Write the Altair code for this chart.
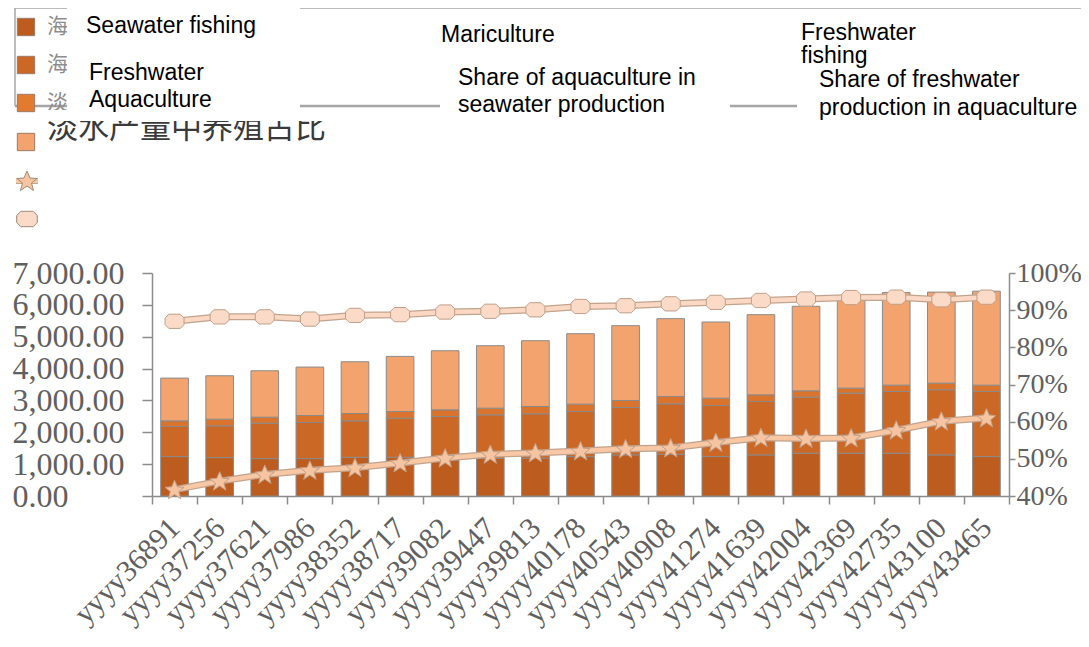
import altair as alt
import pandas as pd

# ---------------- data ----------------
years = ["yyyy36891", "yyyy37256", "yyyy37621", "yyyy37986", "yyyy38352", "yyyy38717",
         "yyyy39082", "yyyy39447", "yyyy39813", "yyyy40178", "yyyy40543", "yyyy40908",
         "yyyy41274", "yyyy41639", "yyyy42004", "yyyy42369", "yyyy42735", "yyyy43100",
         "yyyy43465"]
seawater_fishing = [1237, 1206, 1174, 1174, 1216, 1216, 1185, 1185, 1185, 1237,
                    1289, 1310, 1237, 1289, 1342, 1342, 1342, 1289, 1237]
mariculture = [944, 996, 1111, 1132, 1143, 1227, 1310, 1362, 1394, 1415,
               1489, 1583, 1604, 1678, 1761, 1887, 1939, 2045, 2044]
freshwater_fishing = [178, 209, 189, 221, 230, 209, 210, 210, 231, 231,
                      220, 231, 231, 209, 199, 157, 199, 209, 199]
freshwater_aquaculture = [1342, 1363, 1457, 1520, 1625, 1730, 1855, 1961, 2065, 2212,
                          2349, 2443, 2390, 2516, 2653, 2764, 2910, 2857, 2950]
share_aquaculture_seawater = [41.7, 44.0, 45.8, 46.9, 47.6, 48.9, 50.2, 51.2, 51.6, 52.1,
                              52.7, 52.9, 54.4, 55.7, 55.5, 55.6, 57.7, 60.1, 61.0]
share_aquaculture_freshwater = [87.0, 88.2, 88.2, 87.6, 88.6, 88.8, 89.5, 89.7, 90.1, 91.0,
                                91.2, 91.7, 92.1, 92.6, 93.0, 93.4, 93.5, 92.8, 93.5]

series_names = ["Seawater fishing", "Mariculture", "Freshwater fishing", "Freshwater aquaculture"]
series_values = [seawater_fishing, mariculture, freshwater_fishing, freshwater_aquaculture]
series_colors = ["#BC5D1F", "#CC6826", "#DA742D", "#F3A46E"]

rows = []
for i, yr in enumerate(years):
    for k, (nm, arr) in enumerate(zip(series_names, series_values)):
        rows.append({"year": yr, "series": nm, "value": arr[i], "order": k})
bar_df = pd.DataFrame(rows)

lrows = []
for i, yr in enumerate(years):
    lrows.append({"year": yr, "line": "sea", "share": share_aquaculture_seawater[i] / 100})
    lrows.append({"year": yr, "line": "fresh", "share": share_aquaculture_freshwater[i] / 100})
line_df = pd.DataFrame(lrows)

# ---------------- layout ----------------
OX, OY = 152, 273          # page position of plot origin
W, H = 857, 223
AX = "#8c8c8c"
LAB = "#606060"
SERIF = "Liberation Serif"
SANS = "Liberation Sans"

x_enc = alt.X("year:N", sort=years, title=None,
              scale=alt.Scale(paddingInner=0, paddingOuter=0),
              axis=alt.Axis(labelAngle=-45, labelAlign="right", labelBaseline="middle",
                            labelPadding=19, tickSize=8, tickBand="extent",
                            labelFont=SERIF, labelFontSize=30, labelColor=LAB,
                            labelOverlap=False, domainColor=AX, domainWidth=1.5,
                            tickColor=AX, tickWidth=1.5))

left_axis = alt.Axis(values=list(range(0, 7001, 1000)), format=",.2f", title=None,
                     labelFont=SERIF, labelFontSize=32, labelColor=LAB,
                     labelAlign="left", labelBaseline="middle", labelPadding=130,
                     tickSize=10, tickColor=AX, tickWidth=1.5,
                     domainColor=AX, domainWidth=1.5, grid=False, labelOverlap=False)

right_axis = alt.Axis(orient="right", values=[0.4, 0.5, 0.6, 0.7, 0.8, 0.9, 1.0],
                      format=".0%", title=None, labelFont=SERIF, labelFontSize=28,
                      labelColor=LAB, labelPadding=1, tickSize=6, tickColor=AX,
                      tickWidth=1.5, domainColor=AX, domainWidth=1.5, grid=False,
                      labelOverlap=False, labelBaseline="middle")

bars = alt.Chart(bar_df).mark_bar(width=alt.RelativeBandSize(0.613), stroke="#8a8a8a",
                                  strokeWidth=1).encode(
    x=x_enc,
    y=alt.Y("value:Q", stack="zero", scale=alt.Scale(domain=[0, 7000], nice=False),
            axis=left_axis),
    color=alt.Color("series:N", scale=alt.Scale(domain=series_names, range=series_colors),
                    legend=None),
    order=alt.Order("order:Q", sort="ascending"),
)

y_line = alt.Y("share:Q", scale=alt.Scale(domain=[0.4, 1.0], nice=False), axis=right_axis)

OCT = "M-0.6,-0.75L0.6,-0.75L1,-0.35L1,0.35L0.6,0.75L-0.6,0.75L-1,0.35L-1,-0.35Z"
STAR = "M0,-1L0.3,-0.3L1,-0.25L0.45,0.2L0.65,0.95L0,0.5L-0.65,0.95L-0.45,0.2L-1,-0.25L-0.3,-0.3Z"

def line_layers(key, color, shape, fill):
    base = alt.Chart(line_df).transform_filter(alt.datum.line == key)
    outline = base.mark_line(color="#C2A38D", strokeWidth=7).encode(x=x_enc, y=y_line)
    inner = base.mark_line(color=color, strokeWidth=4.5).encode(x=x_enc, y=y_line)
    pts = base.mark_point(shape=shape, size=360, filled=True, fill=fill, stroke="#BF9F88",
                          strokeWidth=1, opacity=1).encode(x=x_enc, y=y_line)
    return [outline, inner, pts]

lines = alt.layer(*(line_layers("fresh", "#FBD8C3", OCT, "#FBDAC7") +
                    line_layers("sea", "#F8C7A4", STAR, "#F7C4A1")))

# ---------------- legend decoration ----------------
one = pd.DataFrame({"k": [0]})

def T(s, px, py, size, color="#000000", font=SANS, baseline="alphabetic"):
    return alt.Chart(one).mark_text(text=s, align="left", baseline=baseline, font=font,
                                    fontSize=size, color=color).encode(
        x=alt.value(px - OX), y=alt.value(py - OY))

def BOX(x1, y1, x2, y2, color="white"):
    return alt.Chart(one).mark_rect(color=color).encode(
        x=alt.value(x1 - OX), x2=alt.value(x2 - OX), y=alt.value(y1 - OY), y2=alt.value(y2 - OY))

def RULE(x1, y1, x2, y2, color="#a6a6a6", w=1.5):
    return alt.Chart(one).mark_rule(color=color, strokeWidth=w).encode(
        x=alt.value(x1 - OX), x2=alt.value(x2 - OX), y=alt.value(y1 - OY), y2=alt.value(y2 - OY))

def SYM(px, py, shape, size, fill, stroke="#a08a7a"):
    return alt.Chart(one).mark_point(shape=shape, size=size, filled=True, fill=fill,
                                     stroke=stroke, strokeWidth=1, opacity=1).encode(
        x=alt.value(px - OX), y=alt.value(py - OY))

decor = [
    RULE(15, 8, 1085, 8), RULE(15, 8, 15, 106), RULE(1085, 8, 1085, 106),
    RULE(15, 106, 1085, 106, w=2.5),
    SYM(26, 27, "square", 300, series_colors[0], "#9a7a66"),
    SYM(26, 65, "square", 300, series_colors[1], "#9a7a66"),
    SYM(26, 103, "square", 300, "#E27A30", "#9a7a66"),
    SYM(26, 142, "square", 300, series_colors[3], "#9a7a66"),
    RULE(16, 181, 38, 181, color="#C2A38D", w=6), RULE(16, 181, 38, 181, color="#F8C7A4", w=4),
    SYM(27, 181, STAR, 400, "#F7C4A1"),
    RULE(16, 219, 38, 219, color="#C2A38D", w=6), RULE(16, 219, 38, 219, color="#FBD8C3", w=4),
    SYM(27, 219, OCT, 420, "#FBDAC7"),
    T("海洋捕捞", 47, 27, 21, "#8c8c8c", "Noto Sans CJK SC", "middle"),
    T("海水养殖", 47, 65, 21, "#8c8c8c", "Noto Sans CJK SC", "middle"),
    T("淡水捕捞", 47, 103, 21, "#8c8c8c", "Noto Sans CJK SC", "middle"),
    T("淡水产量中养殖占比", 47, 129, 31, "#3a3a3a", "Noto Sans CJK SC", "middle"),
    BOX(67, -10, 300, 110), BOX(45, 110, 340, 121),
    BOX(430, 14, 720, 52), BOX(440, 58, 730, 122),
    BOX(795, 14, 1078, 60), BOX(797, 60, 1100, 122),
    T("Seawater fishing", 86, 32.5, 23),
    T("Freshwater", 89, 80, 23), T("Aquaculture", 89, 107, 23),
    T("Mariculture", 441, 42, 23),
    T("Freshwater", 801, 40, 23), T("fishing", 801, 63, 23),
    T("Share of aquaculture in", 458, 85, 23), T("seawater production", 458, 112, 23),
    T("Share of freshwater", 819, 87, 23), T("production in aquaculture", 819, 115, 23),
]

chart = alt.layer(bars, lines, *decor).resolve_scale(y="independent").properties(
    width=W, height=H,
    padding={"left": OX - 8, "top": OY - 8, "right": 1073 - (OX - 8) - W,
             "bottom": 631 - (OY - 8) - H},
    autosize=alt.AutoSizeParams(type="none"),
    background="white",
).configure_view(stroke=None)

chart.save("out.html", embed_options={"renderer": "svg", "actions": False})
